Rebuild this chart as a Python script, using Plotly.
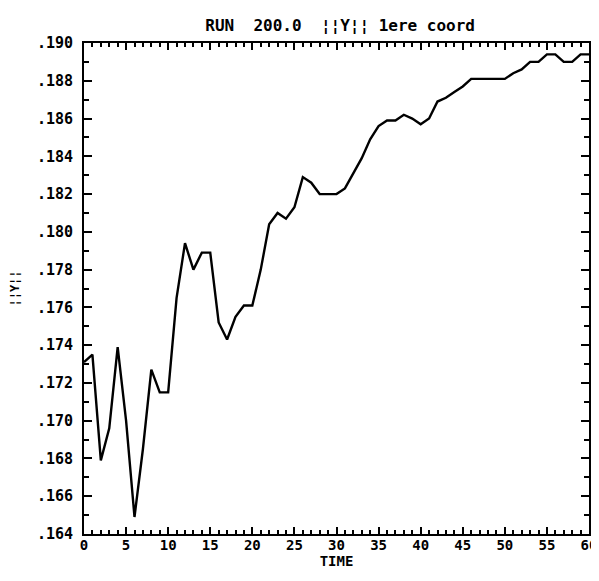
import plotly.graph_objects as go

# ||Y|| first coordinate vs time, run 200.0
time = list(range(61))
y_norm = [
    .1731, .1735, .1679, .1696, .1739, .1700, .1649, .1685, .1727, .1715,
    .1715, .1765, .1794, .1780, .1789, .1789, .1752, .1743, .1755, .1761,
    .1761, .1780, .1804, .1810, .1807, .1813, .1829, .1826, .1820, .1820,
    .1820, .1823, .1831, .1839, .1849, .1856, .1859, .1859, .1862, .1860,
    .1857, .1860, .1869, .1871, .1874, .1877, .1881, .1881, .1881, .1881,
    .1881, .1884, .1886, .1890, .1890, .1894, .1894, .1890, .1890, .1894,
    .1894,
]

x_ticks = list(range(0, 61, 5))
y_ticks = [round(.164 + .002 * i, 3) for i in range(14)]
y_labels = [f"{v:.3f}"[1:] for v in y_ticks]

font = "DejaVu Sans Mono"

fig = go.Figure(go.Scatter(x=time, y=y_norm, mode="lines",
                           line=dict(color="black", width=2.4)))

# page body adds an 8px margin, so the figure is sized to fit inside the window
fig.update_layout(
    width=591, height=565,
    margin=dict(l=76, r=10, t=35, b=39, autoexpand=False),
    paper_bgcolor="white", plot_bgcolor="white",
    showlegend=False,
    font=dict(family=font, size=12, color="black"),
    title=dict(text="<b>RUN  200.0  ¦¦Y¦¦ 1ere coord</b>", x=0.562, xanchor="center",
               y=0.9695, yanchor="middle", automargin=False, font=dict(size=16)),
)

fig.update_xaxes(
    range=[0, 60], tickvals=x_ticks, ticktext=[f"<b>{v}</b>" for v in x_ticks],
    ticks="inside", ticklen=7, tickwidth=2, tickcolor="black",
    minor=dict(dtick=1, tick0=0, ticks="inside", ticklen=4, tickwidth=1.5, tickcolor="black"),
    showline=True, linecolor="black", linewidth=2, mirror="ticks",
    showgrid=False, zeroline=False, automargin=False,
    ticklabelstandoff=-3, ticklabeloverflow="allow",
    title=dict(text="<b>TIME</b>", standoff=0, font=dict(size=14)),
    tickfont=dict(size=14),
)
fig.update_yaxes(
    range=[.164, .190], tickvals=y_ticks, ticktext=[f"<b>{t}</b>" for t in y_labels],
    ticks="inside", ticklen=8, tickwidth=2, tickcolor="black",
    minor=dict(dtick=.001, tick0=.164, ticks="inside", ticklen=5, tickwidth=1.5, tickcolor="black"),
    showline=True, linecolor="black", linewidth=2, mirror="ticks",
    showgrid=False, zeroline=False, automargin=False,
    ticklabelstandoff=6,
    title=dict(text="<b>¦¦Y¦¦</b>", standoff=15, font=dict(size=12)),
    tickfont=dict(size=15),
)

fig.write_html("out.html")
